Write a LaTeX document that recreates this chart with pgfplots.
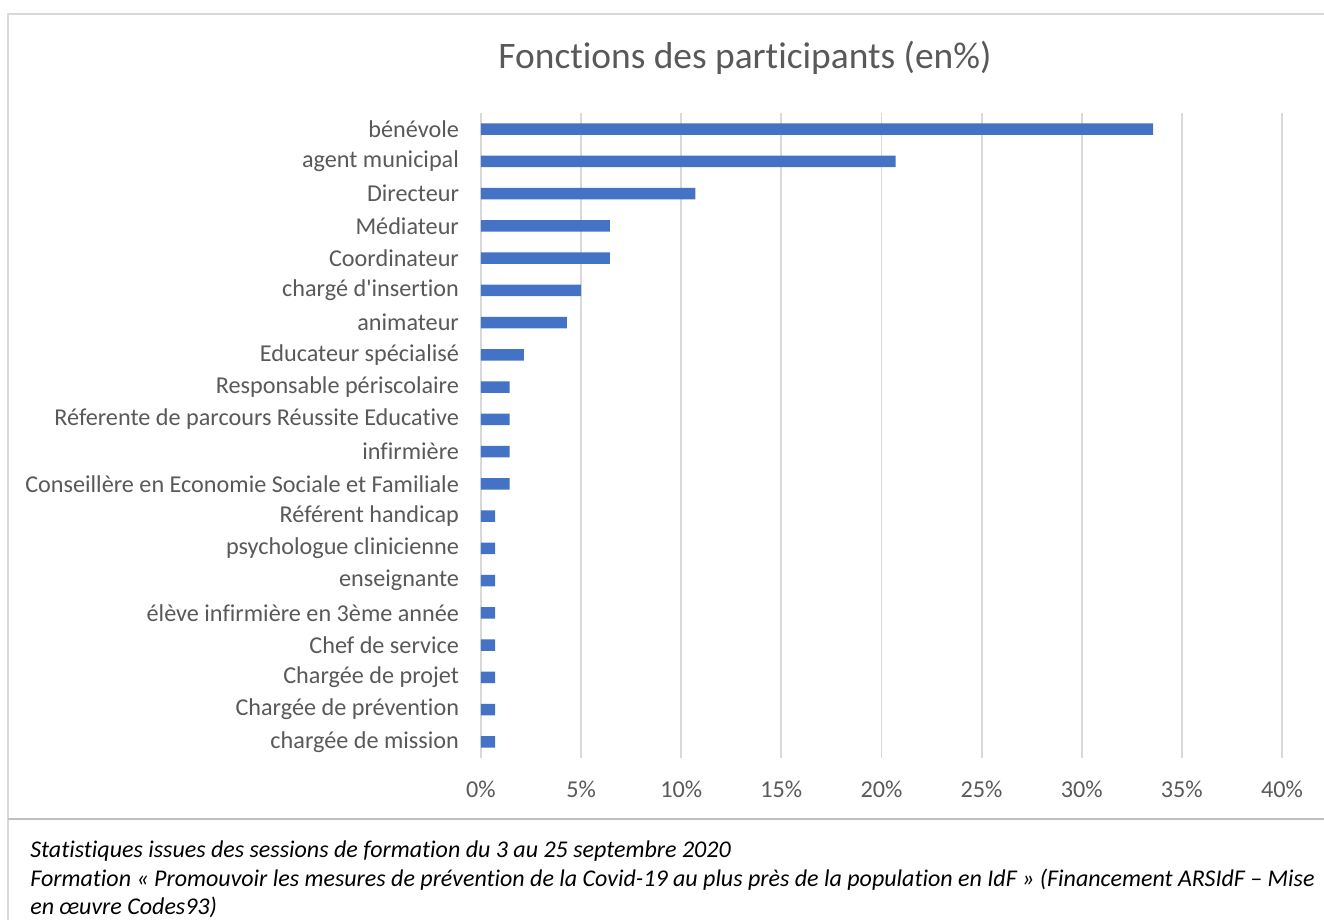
\documentclass[border=0pt]{standalone}
\usepackage{fontspec}
\setmainfont{Carlito}
\newfontfamily\calibri{Carlito}[Ligatures=NoCommon]
\usepackage{pgfplots}
\pgfplotsset{compat=1.18}
\definecolor{barblue}{HTML}{4472C4}
\definecolor{txtgray}{HTML}{595959}
\definecolor{gridgray}{HTML}{D9D9D9}
\definecolor{framegray}{HTML}{BFBFBF}

\begin{document}
\begin{tikzpicture}
\useasboundingbox (0,0) rectangle (662pt,460pt);
\fill[white] (0,0) rectangle (662pt,460pt);
% cadre du graphique et de la note
\draw[gridgray, line width=1pt] (662pt,453pt) -- (4pt,453pt) -- (4pt,0pt);
\draw[framegray, line width=1.2pt] (4pt,50.5pt) -- (662pt,50.5pt);

\node[txtgray, font=\calibri\fontsize{18.7}{22}\selectfont] at (372.5pt,431pt) {Fonctions des participants (en\%)};

\begin{axis}[
    at={(240.5pt,81pt)}, anchor=south west,
    scale only axis, width=400.5pt, height=322.5pt,
    xbar, bar width=5.75pt,
    xmin=0, xmax=40,
    ymin=-0.5, ymax=19.5, y dir=reverse,
    ytick={0,...,19},
    yticklabels={bénévole, agent municipal, Directeur, Médiateur, Coordinateur\hspace{2.7pt},
        chargé d'insertion, animateur, Educateur spécialisé, Responsable périscolaire,
        Réferente de parcours Réussite Educative, infirmière,
        Conseillère en Economie Sociale et Familiale, Référent handicap,
        psychologue clinicienne, enseignante\hspace{2.7pt}, élève infirmière en 3ème année,
        Chef de service, Chargée de projet, Chargée de prévention, chargée de mission},
    xtick={0,5,...,40},
    xticklabels={0\%,5\%,10\%,15\%,20\%,25\%,30\%,35\%,40\%},
    xmajorgrids, grid style={gridgray, line width=0.9pt},
    axis line style={draw=none},
    major tick length=0pt,
    tick label style={txtgray, font=\calibri\fontsize{12.1}{14}\selectfont},
    xticklabel style={yshift=-8pt},
    yticklabel style={xshift=-7.5pt},
]
\addplot[fill=barblue, draw=none] coordinates {
    (33.57,0) (20.71,1) (10.71,2) (6.43,3) (6.43,4) (5.00,5) (4.29,6) (2.14,7)
    (1.43,8) (1.43,9) (1.43,10) (1.43,11)
    (0.71,12) (0.71,13) (0.71,14) (0.71,15) (0.71,16) (0.71,17) (0.71,18) (0.71,19)
};
\end{axis}

% note sous le graphique
\begin{scope}[every node/.style={anchor=base west, inner sep=0pt, font=\calibri\fontsize{12}{14}\selectfont\itshape}]
\node at (15pt,31pt) {Statistiques issues des sessions de formation du 3 au 25 septembre 2020};
\node at (15pt,16.5pt) {Formation « Promouvoir les mesures de prévention de la Covid-19 au plus près de la population en IdF » (Financement ARSIdF – Mise};
\node at (15pt,2.5pt) {en œuvre Codes93)};
\end{scope}
\end{tikzpicture}
\end{document}
